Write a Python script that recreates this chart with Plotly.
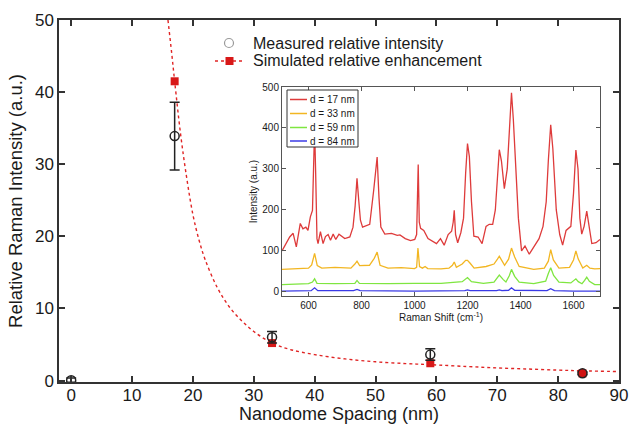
import plotly.graph_objects as go

# ---------------- main plot data ----------------
meas_x = [0, 17, 33, 59, 84]
meas_y = [0.05, 33.9, 6.0, 3.6, 1.0]
meas_err = [0.3, 4.7, 0.8, 0.8, 0.2]

sim_x = [17, 33, 59, 84]
sim_y = [41.5, 5.2, 2.4, 1.0]

curve_x = [15.9, 16.5, 17, 18, 19, 20, 21, 22, 24, 26, 28, 30, 33, 36, 40, 45, 50, 55, 59, 65, 70, 75, 80, 84, 90]
curve_y = [50, 45.5, 41.5, 34, 28, 23, 19.5, 16.8, 12.9, 10.2, 8.3, 6.8, 5.2, 4.3, 3.6, 3.0, 2.6, 2.35, 2.2, 1.95, 1.75, 1.6, 1.45, 1.35, 1.25]

x_ticks = [0, 10, 20, 30, 40, 50, 60, 70, 80, 90]
y_ticks = [0, 10, 20, 30, 40, 50]

main_legend = ["Measured relative intensity", "Simulated relative enhancement"]

# ---------------- inset spectra data ----------------
red_x = [500, 515, 529, 542, 554, 569, 579, 590, 598, 607, 615, 619, 623, 627, 632, 636, 645, 655, 664, 674,
         683, 693, 703, 715, 737, 756, 768, 776, 783, 790, 796, 804, 831, 846, 852, 859, 866, 873, 888, 913,
         935, 945, 965, 985, 1001, 1008, 1014, 1018, 1023, 1035, 1051, 1083, 1098, 1112, 1127, 1140, 1146, 1150, 1155, 1163,
         1175, 1185, 1193, 1200, 1207, 1215, 1224, 1240, 1255, 1270, 1282, 1295, 1305, 1313, 1320, 1328, 1339, 1350, 1358, 1366,
         1373, 1382, 1392, 1404, 1417, 1433, 1450, 1470, 1485, 1497, 1505, 1514, 1522, 1535, 1548, 1559, 1572, 1580, 1590, 1600,
         1609, 1617, 1624, 1631, 1640, 1650, 1658, 1669, 1685, 1700]
red_y = [100, 118, 134, 143, 110, 167, 154, 158, 150, 183, 199, 300, 400, 290, 130, 118, 147, 118, 135, 140,
         126, 141, 128, 141, 130, 134, 158, 210, 277, 220, 175, 158, 165, 248, 280, 329, 230, 158, 141, 143,
         138, 139, 130, 125, 128, 140, 311, 170, 155, 150, 130, 118, 130, 114, 140, 148, 170, 199, 140, 120,
         145, 180, 290, 362, 330, 220, 136, 134, 118, 160, 165, 165, 200, 290, 347, 320, 252, 300, 400, 486,
         420, 300, 180, 100, 112, 92, 110, 130, 160, 220, 320, 408, 350, 200, 140, 114, 150, 155, 160, 240,
         346, 300, 180, 141, 160, 197, 160, 118, 120, 128]

yel_x = [500, 560, 600, 612, 623, 633, 650, 700, 760, 775, 783, 793, 830, 848, 859, 870, 900, 950, 1000, 1008,
         1013, 1019, 1030, 1040, 1050, 1100, 1130, 1143, 1150, 1158, 1180, 1193, 1200, 1210, 1225, 1270, 1300, 1313, 1320, 1328,
         1340, 1355, 1366, 1378, 1395, 1450, 1490, 1505, 1514, 1524, 1545, 1585, 1600, 1609, 1618, 1635, 1650, 1662, 1680, 1700]
yel_y = [55, 57, 58, 66, 94, 64, 58, 60, 58, 68, 75, 64, 65, 82, 97, 65, 58, 59, 57, 60,
         107, 62, 58, 62, 57, 56, 58, 65, 73, 60, 68, 77, 77, 70, 58, 62, 68, 80, 87, 78,
         65, 80, 107, 85, 62, 55, 58, 75, 103, 78, 58, 60, 78, 100, 80, 58, 65, 58, 56, 57]

grn_x = [500, 600, 615, 623, 632, 700, 775, 783, 792, 900, 1000, 1100, 1180, 1200, 1215, 1260, 1300, 1320, 1335, 1345,
         1358, 1366, 1378, 1395, 1450, 1495, 1505, 1514, 1525, 1545, 1590, 1603, 1609, 1618, 1632, 1642, 1650, 1660, 1680, 1700]
grn_y = [18, 20, 24, 32, 21, 20, 21, 28, 21, 20, 21, 21, 25, 35, 25, 21, 24, 41, 30, 24,
         40, 55, 38, 24, 20, 26, 45, 59, 40, 24, 22, 28, 32, 25, 20, 28, 36, 26, 18, 18]

blu_x = [500, 610, 623, 635, 770, 783, 795, 1000, 1190, 1200, 1210, 1310, 1320, 1330, 1355, 1366, 1378, 1500, 1514, 1528, 1600, 1700]
blu_y = [2, 3, 10, 3, 3, 6, 3, 2, 3, 5, 3, 3, 5, 3, 4, 10, 4, 3, 8, 3, 2, 2]

inset_x_ticks = [600, 800, 1000, 1200, 1400, 1600]
inset_y_ticks = [0, 100, 200, 300, 400, 500]

spectra_names = ["d = 17 nm", "d = 33 nm", "d = 59 nm", "d = 84 nm"]
spectra_x = [red_x, yel_x, grn_x, blu_x]
spectra_y = [red_y, yel_y, grn_y, blu_y]
spectra_colors = ["#de3b3b", "#f2b622", "#7fe640", "#3b3be6"]

FONT = "Liberation Sans, Arial, Helvetica, sans-serif"
RED_LINE = "#e02424"
RED_MARK = "#d81818"

L, R, T, B = 59, 12, 20, 42
W, H = 631, 424
pw, ph = W - L - R, H - T - B

def px2x(px):
    return (px - L) / pw

def px2y(py):
    return (H - B - py) / ph

fig = go.Figure()

# simulated curve (dotted)
fig.add_trace(go.Scatter(x=curve_x, y=curve_y, mode="lines",
                         line=dict(color=RED_LINE, width=1.4, dash="dot", shape="spline"),
                         xaxis="x", yaxis="y"))
# simulated squares
fig.add_trace(go.Scatter(x=sim_x, y=sim_y, mode="markers", marker=dict(symbol="square", size=8, color=RED_MARK),
                         xaxis="x", yaxis="y"))
# measured with error bars
fig.add_trace(go.Scatter(x=meas_x, y=meas_y, mode="markers",
                         marker=dict(symbol="circle", size=9,
                                     color=["rgba(0,0,0,0)"] * (len(meas_x) - 1) + ["#d01212"],
                                     line=dict(color="#222", width=1.5)),
                         error_y=dict(type="data", array=meas_err, visible=True, color="#222", thickness=1.5, width=5),
                         xaxis="x", yaxis="y"))

# inset spectra
for name, xs, ys, col in zip(spectra_names, spectra_x, spectra_y, spectra_colors):
    fig.add_trace(go.Scatter(x=xs, y=ys, mode="lines", name=name, line=dict(color=col, width=1.3),
                             xaxis="x2", yaxis="y2"))

shapes = []
annotations = []

# ---- main legend (drawn manually) ----
shapes.append(dict(type="circle", xref="paper", yref="paper",
                   x0=px2x(224.5), x1=px2x(233.5), y0=px2y(47.5), y1=px2y(38.5),
                   line=dict(color="#9a9a9a", width=1.2), fillcolor="rgba(0,0,0,0)"))
shapes.append(dict(type="line", xref="paper", yref="paper", x0=px2x(215), x1=px2x(244), y0=px2y(61), y1=px2y(61),
                   line=dict(color=RED_LINE, width=1.4, dash="dot")))
shapes.append(dict(type="rect", xref="paper", yref="paper", x0=px2x(225.5), x1=px2x(233.5), y0=px2y(65), y1=px2y(57),
                   line=dict(width=0), fillcolor=RED_MARK))
for txt, ry in zip(main_legend, [43, 61]):
    annotations.append(dict(text=txt, xref="paper", yref="paper", x=px2x(251), y=px2y(ry), xanchor="left",
                            yanchor="middle", showarrow=False, font=dict(size=16, color="#1a1a1a")))

# ---- inset legend (drawn manually) ----
shapes.append(dict(type="rect", xref="paper", yref="paper", x0=px2x(287), x1=px2x(358), y0=px2y(147), y1=px2y(90),
                   line=dict(color="#333", width=1), fillcolor="white", layer="above"))
row_y = [99.5, 113.5, 127.5, 141]
for name, col, ry in zip(spectra_names, spectra_colors, row_y):
    shapes.append(dict(type="line", xref="paper", yref="paper", x0=px2x(290), x1=px2x(307), y0=px2y(ry), y1=px2y(ry),
                       line=dict(color=col, width=1.5), layer="above"))
    annotations.append(dict(text=name, xref="paper", yref="paper", x=px2x(308), y=px2y(ry), xanchor="left",
                            yanchor="middle", showarrow=False, font=dict(size=10, color="#1a1a1a")))

fig.update_layout(
    width=W, height=H,
    margin=dict(l=L, r=R, t=T, b=B),
    paper_bgcolor="white", plot_bgcolor="white",
    showlegend=False,
    font=dict(family=FONT, color="#1a1a1a"),
    xaxis=dict(range=[-2, 90], tickvals=x_ticks, ticks="inside", ticklen=6, tickwidth=1.5, tickcolor="#333",
               showline=True, linecolor="#333", linewidth=1.5, mirror="ticks", showgrid=False, zeroline=False,
               automargin=False, tickfont=dict(size=17), ticklabelstandoff=-3,
               title=dict(text="Nanodome Spacing (nm)", font=dict(size=18), standoff=5)),
    yaxis=dict(range=[-0.2, 50], tickvals=y_ticks, ticks="inside", ticklen=6, tickwidth=1.5, tickcolor="#333",
               showline=True, linecolor="#333", linewidth=1.5, mirror="ticks", showgrid=False, zeroline=False,
               automargin=False, tickfont=dict(size=17),
               title=dict(text="Relative Raman Intensity (a.u.)", font=dict(size=18.5), standoff=7)),
    xaxis2=dict(domain=[px2x(282), px2x(600)], anchor="y2", range=[500, 1700], tickvals=inset_x_ticks,
                ticks="inside", ticklen=4, tickcolor="#555", showline=True, linecolor="#555", linewidth=1,
                mirror="ticks", showgrid=False, zeroline=False, tickfont=dict(size=10), automargin=False,
                title=dict(text="Raman Shift (cm<sup>-1</sup>)", font=dict(size=10), standoff=2)),
    yaxis2=dict(domain=[px2y(296), px2y(87)], anchor="x2", range=[-10, 500], tickvals=inset_y_ticks,
                ticks="inside", ticklen=4, tickcolor="#555", showline=True, linecolor="#555", linewidth=1,
                mirror="ticks", showgrid=False, zeroline=False, tickfont=dict(size=10), automargin=False,
                title=dict(text="Intensity (a.u.)", font=dict(size=10), standoff=2)),
    shapes=shapes,
    annotations=annotations,
)

fig.write_html("out.html",
               config={"displayModeBar": False},
               post_script="document.body.style.margin='0';document.body.style.padding='0';"
                           "document.documentElement.style.margin='0';")
